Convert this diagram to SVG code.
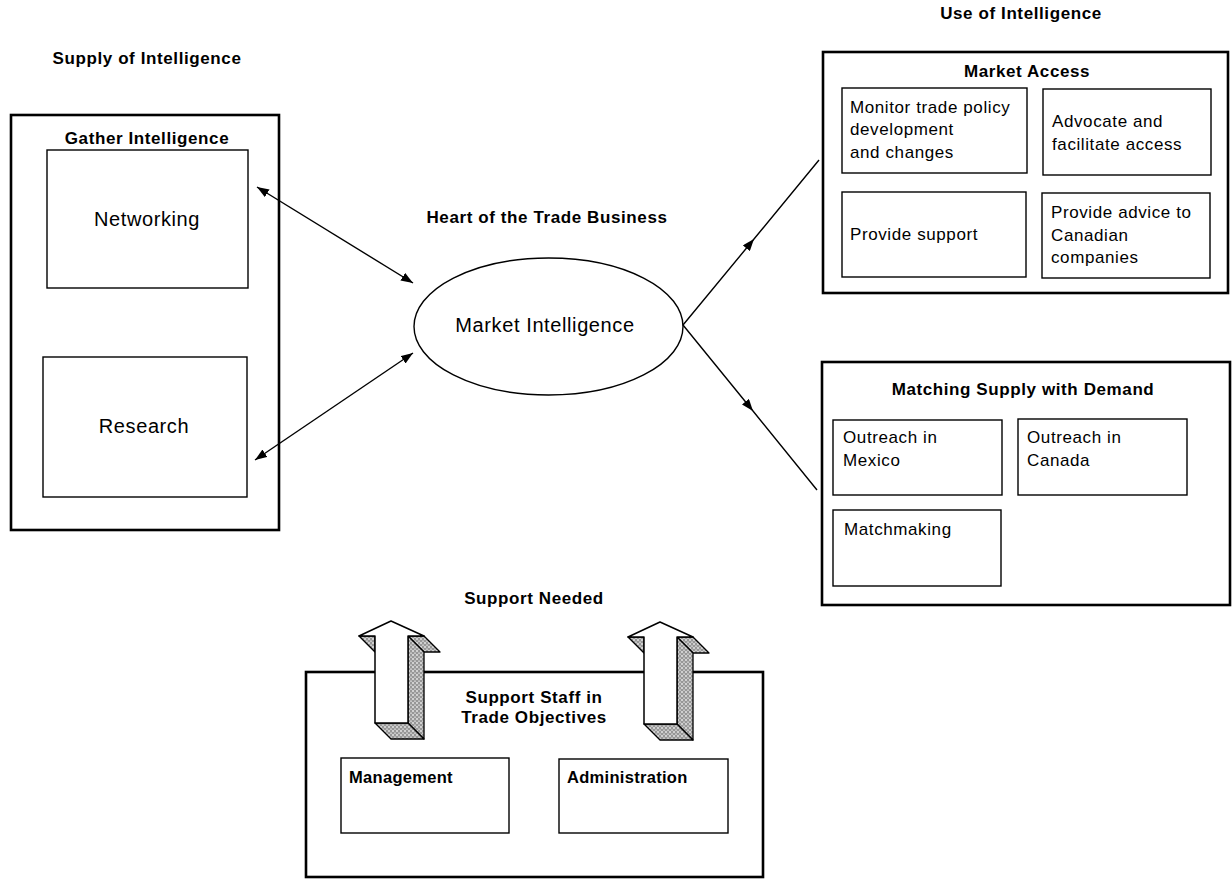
<svg xmlns="http://www.w3.org/2000/svg" width="1232" height="879" viewBox="0 0 1232 879">
<style>
text{font-family:"Liberation Sans",Arial,sans-serif;fill:#000}
.h{font-weight:bold;font-size:17px;letter-spacing:0.6px}
.big{font-size:20px;letter-spacing:0.6px}
.t{font-size:17px;letter-spacing:0.6px}
.tb{font-size:16.5px;font-weight:bold;letter-spacing:0.3px}
.outer{fill:#fff;stroke:#000;stroke-width:2.6}
.inner{fill:#fff;stroke:#000;stroke-width:1.4}
.con{fill:none;stroke:#000;stroke-width:1.4}
.side{fill:url(#stip);stroke:#000;stroke-width:1.3;stroke-linejoin:round}
.front{fill:#fff;stroke:#000;stroke-width:1.5;stroke-linejoin:round}
</style>
<defs>
<pattern id="stip" width="4" height="4" patternUnits="userSpaceOnUse">
<rect width="4" height="4" fill="#d0d0d0"/>
<circle cx="1" cy="1" r="0.7" fill="#333"/>
<circle cx="3" cy="3" r="0.7" fill="#333"/>
<circle cx="3" cy="0.8" r="0.5" fill="#666"/>
</pattern>
<marker id="ah" viewBox="0 0 12 9" refX="12" refY="4.5" markerWidth="12" markerHeight="9" markerUnits="userSpaceOnUse" orient="auto-start-reverse">
<path d="M0,0 L12,4.5 L0,9 z" fill="#000"/>
</marker>
<g id="arrow3d">
<path class="side" d="M408,636 L424,636 L440,652 L424,652 z"/>
<path class="side" d="M408,636 L424,652 L424,739 L408,723 z"/>
<path class="side" d="M375,723 L408,723 L424,739 L391,739 z"/>
<path class="side" d="M359,636 L375,636 L375,652 z"/>
<path class="front" d="M391,621 L424,636 L408,636 L408,723 L375,723 L375,636 L359,636 z"/>
</g>
</defs>
<rect width="1232" height="879" fill="#fff"/>

<text class="h" x="147" y="64" text-anchor="middle">Supply of Intelligence</text>
<text class="h" x="1021" y="19" text-anchor="middle">Use of Intelligence</text>
<text class="h" x="547" y="223" text-anchor="middle">Heart of the Trade Business</text>
<text class="h" x="534" y="604" text-anchor="middle">Support Needed</text>

<g id="gather">
<rect class="outer" x="11" y="115" width="268" height="415"/>
<text class="h" x="147" y="144" text-anchor="middle">Gather Intelligence</text>
</g>
<g id="networking">
<rect class="inner" x="47" y="150" width="201" height="138"/>
<text class="big" x="147" y="226" text-anchor="middle">Networking</text>
</g>
<g id="research">
<rect class="inner" x="43" y="357" width="204" height="140"/>
<text class="big" x="144" y="433" text-anchor="middle">Research</text>
</g>

<g id="market-intelligence">
<ellipse cx="548.5" cy="326.5" rx="134.5" ry="68.5" fill="#fff" stroke="#000" stroke-width="1.4"/>
<text class="big" x="545" y="332" text-anchor="middle">Market Intelligence</text>
</g>

<g id="market-access">
<rect class="outer" x="823" y="52" width="405" height="241"/>
<text class="h" x="1027" y="77" text-anchor="middle">Market Access</text>
</g>
<g id="monitor">
<rect class="inner" x="842" y="88" width="185" height="85"/>
<text class="t" x="850" y="113">Monitor trade policy</text>
<text class="t" x="850" y="135">development</text>
<text class="t" x="850" y="158">and changes</text>
</g>
<g id="advocate">
<rect class="inner" x="1043" y="89" width="168" height="86"/>
<text class="t" x="1052" y="127">Advocate and</text>
<text class="t" x="1052" y="150">facilitate access</text>
</g>
<g id="provide-support">
<rect class="inner" x="842" y="192" width="184" height="85"/>
<text class="t" x="850" y="240">Provide support</text>
</g>
<g id="provide-advice">
<rect class="inner" x="1042" y="193" width="168" height="85"/>
<text class="t" x="1051" y="218">Provide advice to</text>
<text class="t" x="1051" y="241">Canadian</text>
<text class="t" x="1051" y="263">companies</text>
</g>

<g id="matching">
<rect class="outer" x="822" y="362" width="408" height="243"/>
<text class="h" x="1023" y="395" text-anchor="middle">Matching Supply with Demand</text>
</g>
<g id="outreach-mexico">
<rect class="inner" x="833" y="420" width="169" height="75"/>
<text class="t" x="843" y="443">Outreach in</text>
<text class="t" x="843" y="466">Mexico</text>
</g>
<g id="outreach-canada">
<rect class="inner" x="1018" y="419" width="169" height="76"/>
<text class="t" x="1027" y="443">Outreach in</text>
<text class="t" x="1027" y="466">Canada</text>
</g>
<g id="matchmaking">
<rect class="inner" x="833" y="510" width="168" height="76"/>
<text class="t" x="844" y="535">Matchmaking</text>
</g>

<g id="support-staff">
<rect class="outer" x="306" y="672" width="457" height="205"/>
<text class="h" x="534" y="703" text-anchor="middle">Support Staff in</text>
<text class="h" x="534" y="723" text-anchor="middle">Trade Objectives</text>
</g>
<g id="management">
<rect class="inner" x="341" y="758" width="168" height="75"/>
<text class="tb" x="349" y="783">Management</text>
</g>
<g id="administration">
<rect class="inner" x="559" y="759" width="169" height="74"/>
<text class="tb" x="567" y="783">Administration</text>
</g>

<g id="support-arrows">
<use href="#arrow3d"/>
<use href="#arrow3d" transform="translate(269,1)"/>
</g>

<g id="connectors">
<path class="con" d="M257,187 L413,283" marker-start="url(#ah)" marker-end="url(#ah)"/>
<path class="con" d="M413,353 L255,460" marker-start="url(#ah)" marker-end="url(#ah)"/>
<path class="con" d="M683,325 L754,239 L819,160" marker-mid="url(#ah)"/>
<path class="con" d="M683,325 L753,411 L817,490" marker-mid="url(#ah)"/>
</g>
</svg>
